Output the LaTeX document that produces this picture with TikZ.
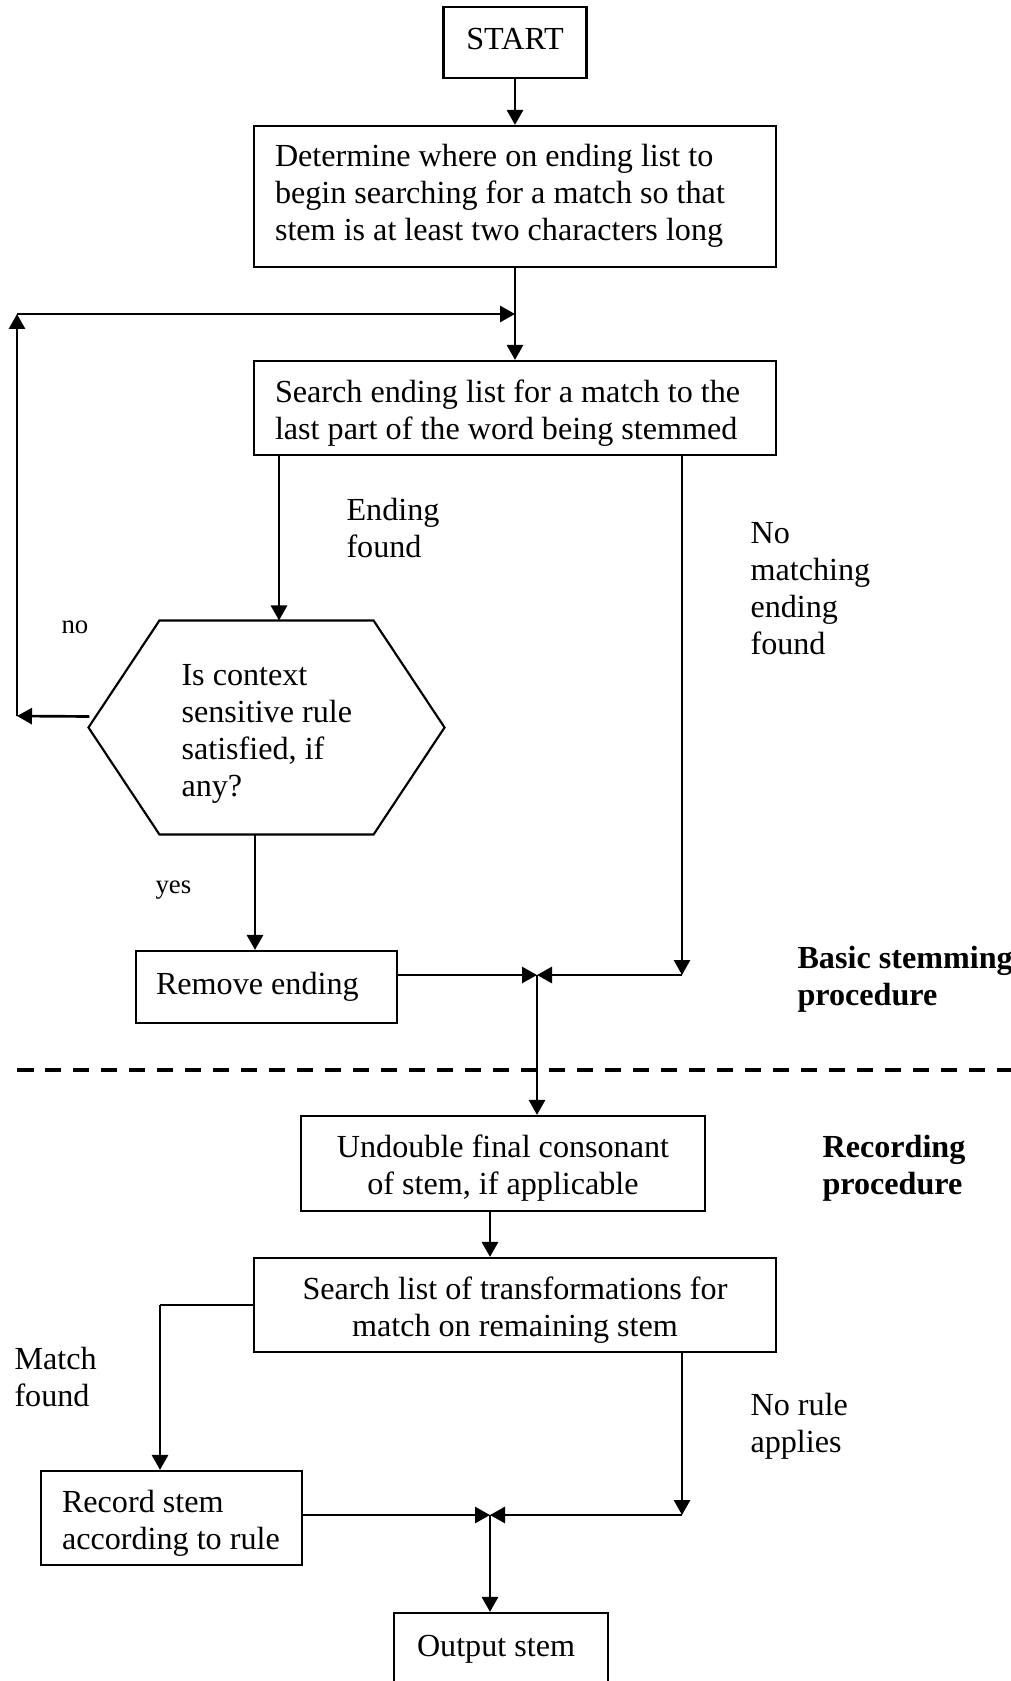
\documentclass[tikz,border=0pt]{standalone}
\usepackage{fontspec}
\setmainfont{Liberation Serif}
\usetikzlibrary{arrows.meta,calc}
% one drawing unit = one pixel of the layout grid
\newcommand{\pxu}{0.3733pt}
\newcommand{\lnstrut}{\rule[-4.14pt]{0pt}{13.8pt}}
\newcommand{\tallstrut}{\rule[-4.14pt]{0pt}{17.8pt}}
\begin{document}
\begin{tikzpicture}[x=\pxu, y=-\pxu,
  base/.style={font=\fontsize{12}{13.8}\selectfont, inner sep=0pt},
  box/.style={base, draw, line width=0.8pt,
    execute at begin node=\lnstrut, execute at end node=\lnstrut},
  lowtext/.style={execute at begin node=\tallstrut},
  lbl/.style={base, anchor=north west, align=flush left, text width={260*\pxu},
    execute at begin node=\lnstrut},
  boldlbl/.style={lbl, font=\fontsize{12}{13.8}\selectfont\bfseries},
  smalllbl/.style={font=\fontsize{10}{12}\selectfont, inner sep=0pt, anchor=base west},
  conn/.style={line width=1pt},
  arr/.style={conn, -{Triangle[length=5.6pt,width=6pt]}},
  hexline/.style={line width=0.8pt, line join=miter}]
\useasboundingbox (0,0) rectangle (1011,1681);
\clip (0,0) rectangle (1011,1681);

% ---------- basic stemming procedure ----------
\node[box, text width={123*\pxu}, inner xsep={10*\pxu}, minimum height={71*\pxu}, align=flush center]
  (start) at (515,42.5) {START};
\node[box, text width={480*\pxu}, inner xsep={21*\pxu}, minimum height={141*\pxu}, align=flush left]
  (det) at (515,196.5) {Determine where on ending list to\\begin searching for a match so that\\stem is at least two characters long};
\node[box, lowtext, text width={480*\pxu}, inner xsep={21*\pxu}, minimum height={94*\pxu}, align=flush left]
  (srch) at (515,408) {Search ending list for a match to the\\last part of the word being stemmed};
% decision: hexagon drawn through the corners of a placeholder node
\node[base, minimum width={355*\pxu}, minimum height={213*\pxu}] (hex) at (266.5,727.5) {};
\draw[hexline] ($(hex.north west)+(71,0)$) -- ($(hex.north east)+(-71,0)$) -- (hex.east)
  -- ($(hex.south east)+(-71,0)$) -- ($(hex.south west)+(71,0)$) -- (hex.west) -- cycle;
\node[lbl] (hextxt) at (181,659) {Is context\\sensitive rule\\satisfied, if\\any?};
\node[box, text width={221*\pxu}, inner xsep={20*\pxu}, minimum height={72*\pxu}, align=flush left]
  (rem) at (266.5,987) {Remove ending};

% ---------- recording procedure ----------
\node[box, lowtext, text width={384*\pxu}, inner xsep={10*\pxu}, minimum height={95*\pxu}, align=flush center]
  (undo) at (503,1163.5) {Undouble final consonant\\of stem, if applicable};
\node[box, lowtext, text width={502*\pxu}, inner xsep={10*\pxu}, minimum height={94*\pxu}, align=flush center]
  (srch2) at (515,1305) {Search list of transformations for\\match on remaining stem};
\node[box, lowtext, text width={219*\pxu}, inner xsep={21*\pxu}, minimum height={94*\pxu}, align=flush left]
  (rec) at (171.5,1518) {Record~stem\\according~to~rule};
\node[box, text width={168*\pxu}, inner xsep={23*\pxu}, minimum height={72*\pxu}, align=flush left]
  (out) at (501,1649) {Output~stem};

% ---------- routing points ----------
\coordinate (j1) at (515,314);
\coordinate (l1) at (17,716);
\coordinate (l2) at (17,314);
\coordinate (xa) at (279,0);
\coordinate (xb) at (255,0);
\coordinate (c1) at (682,975);
\coordinate (j2) at (537,975);
\coordinate (xc) at (490,0);
\coordinate (c3) at (160,1305);
\coordinate (c2) at (682,1515);
\coordinate (j3) at (490,1515);
\coordinate (d1) at (17,1070);
\coordinate (d2) at (1011,1070);

% ---------- connectors ----------
\draw[arr] (start.south) -- (det.north);
\draw[arr] (det.south) -- (srch.north);
\draw[arr] ($(hex.west)+(1,-11)$) -- (l1);
\draw[arr] (l1) -- (l2);
\draw[arr] (l2) -- (j1);
\draw[arr] (srch.south -| xa) -- (hex.north -| xa);
\draw[arr] (srch.south -| c1) -- (c1);
\draw[arr] (c1) -- (j2);
\draw[arr] (hex.south -| xb) -- (rem.north -| xb);
\draw[arr] (j2 -| rem.east) -- (j2);
\draw[arr] (j2) -- (undo.north -| j2);
\draw[arr] (undo.south -| xc) -- (srch2.north -| xc);
\draw[conn] (srch2.west) -- (c3);
\draw[arr] (c3) -- (rec.north -| c3);
\draw[arr] (srch2.south -| c2) -- (c2);
\draw[arr] (c2) -- (j3);
\draw[arr] (j3 -| rec.east) -- (j3);
\draw[arr] (j3) -- (out.north -| j3);

% phase separator
\draw[line width=1.5pt, dash pattern={on 6.16pt off 4.29pt}] (d1) -- (d2);

% ---------- labels ----------
\node[lbl] (lendf) at (346,494) {Ending\\found};
\node[lbl] (lnomatch) at (750,517) {No\\matching\\ending\\found};
\node[smalllbl] (lno) at (61,633) {no};
\node[smalllbl] (lyes) at (155,893) {yes};
\node[boldlbl] (lbasic) at (797,942) {Basic stemming\\procedure};
\node[boldlbl] (lrecord) at (822,1131) {Recording\\procedure};
\node[lbl] (lmatch) at (14,1343) {Match\\found};
\node[lbl] (lnorule) at (750,1389) {No rule\\applies};
\end{tikzpicture}
\end{document}
